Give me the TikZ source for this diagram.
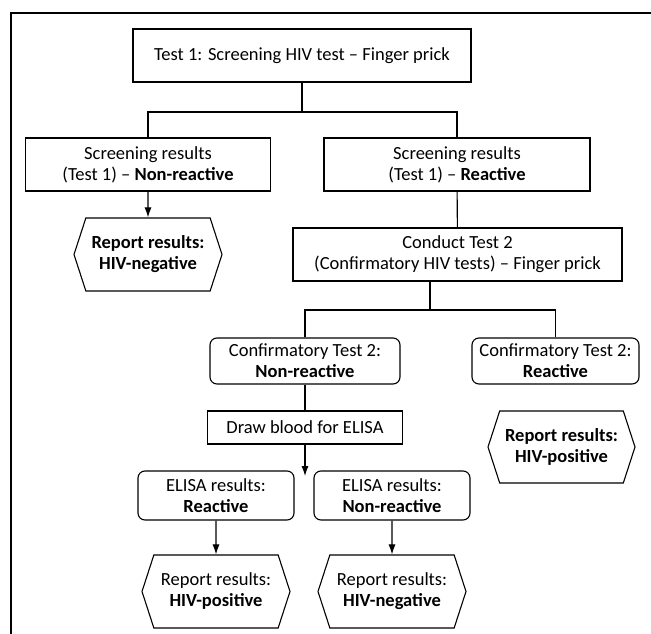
\documentclass[tikz,border=0pt]{standalone}
\usepackage{fontspec}
\setmainfont{Carlito}
\usetikzlibrary{shapes.symbols,arrows.meta}

\tikzset{
    box/.style={draw, rectangle, align=center, inner sep=2pt,
        font=\fontsize{18.5}{21}\selectfont},
    rbox/.style={box, rounded corners=7pt},
    report/.style={draw, signal, signal to=west and east, signal pointer angle=144,
        align=center, inner sep=1pt, font=\fontsize{18.5}{21}\selectfont},
}

\begin{document}
\begin{tikzpicture}[x=1pt, y=-1pt, line width=1.1pt, >={Latex[length=10pt,width=7pt]}]
\useasboundingbox (0,0) rectangle (651,634);
% frame
\draw (11,634) |- (651,13);

% first test
\node[box, minimum width=338pt, minimum height=53pt] (t1) at (302,55.5) {Test 1: Screening HIV test -- Finger prick};
\node[box, minimum width=245pt, minimum height=53pt] (s1) at (148,164.5) {Screening results\\(Test 1) -- \textbf{Non-reactive}};
\node[box, minimum width=266pt, minimum height=53pt] (s2) at (457,164.5) {Screening results\\(Test 1) -- \textbf{Reactive}};
\node[report, minimum width=148pt, minimum height=73pt] (neg1) at (148,254.5) {\textbf{Report results:}\\\textbf{HIV-negative}};

% second test
\node[box, minimum width=329pt, minimum height=53pt] (c2) at (457.5,254.5) {Conduct Test 2\\(Confirmatory HIV tests) -- Finger prick};
\node[rbox, minimum width=190pt, minimum height=46pt] (cn) at (305,361) {Confirmatory Test 2:\\\textbf{Non-reactive}};
\node[rbox, minimum width=167pt, minimum height=46pt] (cr) at (555.5,361) {Confirmatory Test 2:\\\textbf{Reactive}};
\node[report, minimum width=147pt, minimum height=72pt] (pos1) at (561.5,447) {\textbf{Report results:}\\\textbf{HIV-positive}};

% ELISA
\node[box, minimum width=195pt, minimum height=33pt] (blood) at (305,427.5) {Draw blood for ELISA};
\node[rbox, minimum width=156pt, minimum height=49pt] (er) at (216,495.5) {ELISA results:\\\textbf{Reactive}};
\node[rbox, minimum width=156pt, minimum height=49pt] (en) at (392,495.5) {ELISA results:\\\textbf{Non-reactive}};
\node[report, minimum width=148pt, minimum height=73pt] (pos2) at (216,591.5) {Report results:\\\textbf{HIV-positive}};
\node[report, minimum width=148pt, minimum height=73pt] (neg2) at (392,591.5) {Report results:\\\textbf{HIV-negative}};

\coordinate (j1) at (302,112);
\coordinate (j2) at (430,310);
\coordinate (e1) at (305,476);

\draw (t1) -- (j1);
\draw (s1.north) |- (j1) -| (s2.north);
\draw[->] (s1) -- (neg1);
\draw (s2) -- (c2);
\draw (j2 |- c2.south) -- (j2);
\draw (cn.north) |- (j2) -| (cr.north);
\draw (cn) -- (blood);
\draw[->] (blood) -- (e1);
\draw[->] (er) -- (pos2);
\draw[->] (en) -- (neg2);
\end{tikzpicture}
\end{document}
